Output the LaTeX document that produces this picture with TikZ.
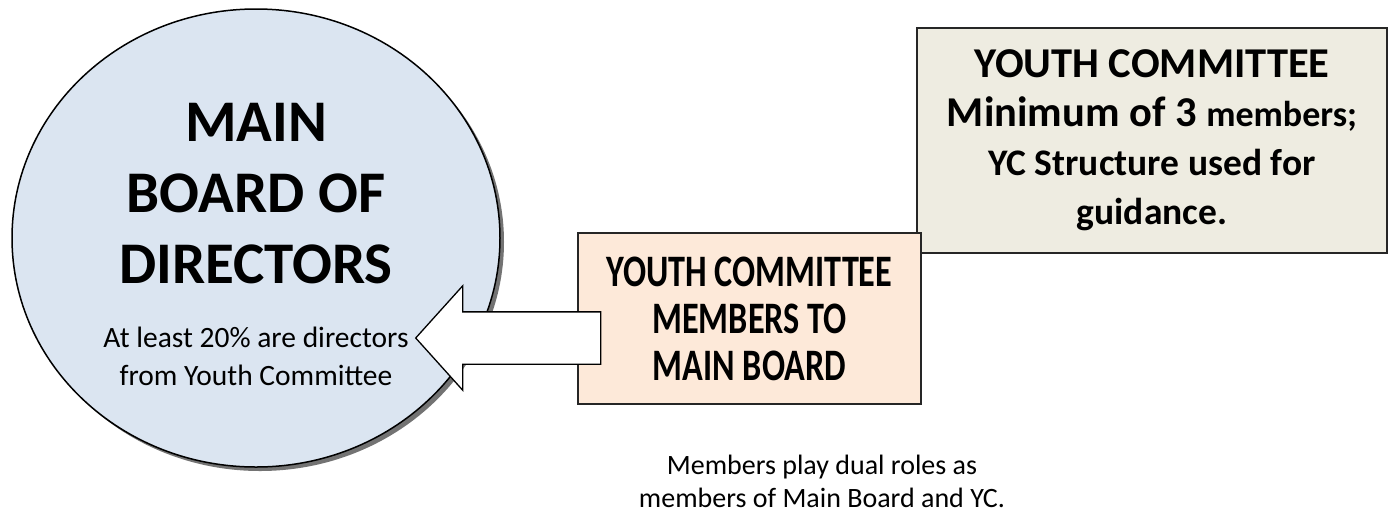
\documentclass[tikz,border=0pt]{standalone}
\usepackage{fontspec}
\setmainfont{Carlito}
\usetikzlibrary{shadows,shapes.geometric,shapes.arrows,positioning}
\definecolor{boardblue}{RGB}{219,229,241}
\definecolor{ycpeach}{RGB}{253,233,217}
\definecolor{ycgray}{RGB}{238,236,225}
\tikzset{
    board-ellipse/.style = {draw=black, fill=boardblue, ellipse, line width=1.5pt, minimum width=488pt, minimum height=458pt,
        drop shadow={shadow xshift=4pt, shadow yshift=-4pt, fill=black!55, opacity=1}},
    yc-box/.style = {draw=black!85, line width=1.3pt, rectangle, align=center, font=\bfseries},
    block-arrow/.style = {draw=black, fill=white, line width=1.3pt, single arrow, shape border rotate=180, inner xsep=0pt, inner ysep=25.5pt,
        minimum height=185pt, single arrow head extend=26pt, single arrow tip angle=96},
}

\begin{document}
\begin{tikzpicture}[x=1pt, y=-1pt]
\useasboundingbox (0,0) rectangle (1392,512);
\node [board-ellipse] (board) at (256,238) {};
\node [align=center, font=\bfseries\fontsize{59}{71}\selectfont] (title) at ([yshift=44pt]board.center) {MAIN\\BOARD OF\\DIRECTORS};
\node [align=center, font=\fontsize{29.5}{38}\selectfont] (share) at ([yshift=-118pt]board.center) {At least 20\% are directors\\from Youth Committee};

\node [yc-box, fill=ycgray, minimum width=470pt, minimum height=225pt, font=\bfseries\fontsize{42.5}{49}\selectfont] (yc) at (1152,140.5)
    {YOUTH COMMITTEE\\Minimum of 3 {\fontsize{36}{49}\selectfont members;}\\{\fontsize{37.5}{49}\selectfont YC Structure used for}\\{\fontsize{37.5}{49}\selectfont guidance.}};
\node [yc-box, fill=ycpeach, minimum width=343pt, minimum height=171pt, font=\bfseries\fontsize{45}{47}\selectfont] (members) at (749.5,318.5)
    {\scalebox{0.76}[1]{YOUTH COMMITTEE}\\\scalebox{0.76}[1]{MEMBERS TO}\\\scalebox{0.76}[1]{MAIN BOARD}};

\node [block-arrow, anchor=tail] (push) at ([xshift=24pt, yshift=-19.5pt]members.west) {};

\node [align=center, font=\fontsize{28}{33}\selectfont] (dual) at (822,481) {Members play dual roles as\\members of Main Board and YC.};
\end{tikzpicture}
\end{document}
